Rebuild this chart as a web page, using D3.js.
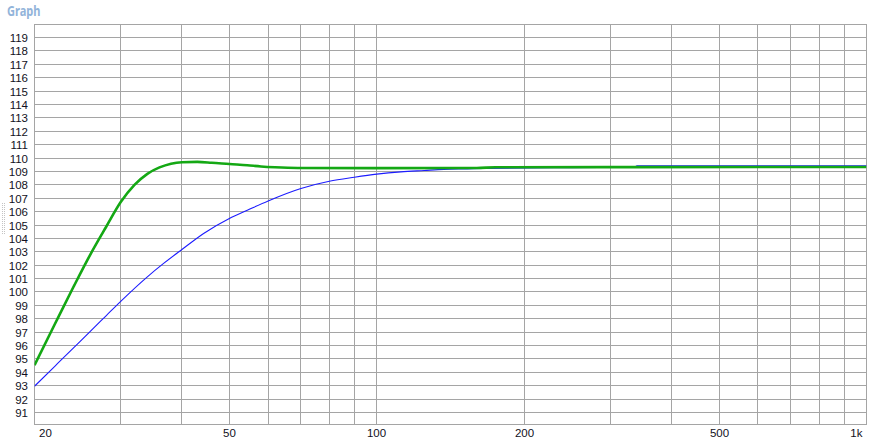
<!DOCTYPE html>
<html>
<head>
<meta charset="utf-8">
<script src="https://cdn.jsdelivr.net/npm/d3@7"></script>
<style>
  html, body { margin: 0; padding: 0; background: #ffffff; }
  svg { display: block; }
</style>
</head>
<body>
<script>
// ---- Data ----
const yTicks = d3.range(91, 120);                       // 91 .. 119
const xGridFreqs = [30, 40, 50, 60, 70, 80, 90, 100, 200, 300, 400, 500, 600, 700, 800, 900];
const xTickFreqs = [20, 50, 100, 200, 500, 1000];
const xTickLabels = ["20", "50", "100", "200", "500", "1k"];

const greenFreq = [20, 22, 24, 26, 28, 30, 32, 34, 36, 38, 40, 43, 46, 50, 54.4, 58, 62, 69, 100, 160, 175, 340, 1000];
const greenDb   = [94.53, 97.59, 100.35, 102.79, 104.85, 106.71, 107.99, 108.82, 109.3, 109.58, 109.69, 109.71, 109.65, 109.55, 109.46, 109.37, 109.31, 109.26, 109.25, 109.26, 109.31, 109.32, 109.33];

const blueFreq = [20, 22, 24, 26, 28, 30, 34, 36.7, 40, 44.3, 50, 54.4, 60, 70, 80, 90, 100, 112, 125, 137, 153, 165, 250, 335, 340, 500, 1000];
const blueDb   = [92.96, 94.45, 95.81, 97.06, 98.22, 99.3, 101.13, 102.13, 103.17, 104.37, 105.49, 106.1, 106.8, 107.73, 108.27, 108.57, 108.80, 108.97, 109.07, 109.15, 109.19, 109.22, 109.28, 109.30, 109.42, 109.42, 109.42];

// ---- Layout ----
const W = 872, H = 444;
const plot = { left: 34.5, right: 866.5, top: 24.5, bottom: 424.5 };
const FONT = "'Liberation Sans', Arial, sans-serif";

const svg = d3.select("body").append("svg").attr("width", W).attr("height", H);

const x = d3.scaleLog().domain([20, 1000]).range([plot.left, plot.right]);
const y = d3.scaleLinear().domain([91, 119]).range([412.5, 37.5]);
const px = v => Math.floor(v) + 0.5;

// Title
svg.append("text")
  .attr("x", 7).attr("y", 15.5)
  .attr("font-family", "'Noto Sans', sans-serif")
  .attr("font-weight", "bold")
  .attr("font-size", 13.5)
  .attr("textLength", 33.5).attr("lengthAdjust", "spacingAndGlyphs")
  .attr("fill", "#92b4da")
  .text("Graph");

// Splitter grip
const grip = svg.append("g").attr("stroke", "#c4c4c4").attr("stroke-dasharray", "1,1");
[2.5, 4.5].forEach(gx => grip.append("line").attr("x1", gx).attr("x2", gx).attr("y1", 203).attr("y2", 235));

// Plot background
svg.append("rect")
  .attr("x", plot.left).attr("y", plot.top)
  .attr("width", plot.right - plot.left).attr("height", plot.bottom - plot.top)
  .attr("fill", "#ffffff");

const grid = svg.append("g").attr("stroke", "#a5a5a5").attr("stroke-width", 1);
grid.selectAll("line.h").data(yTicks).join("line")
  .attr("class", "h")
  .attr("x1", plot.left).attr("x2", plot.right)
  .attr("y1", d => px(y(d))).attr("y2", d => px(y(d)));
grid.selectAll("line.v").data(xGridFreqs).join("line")
  .attr("class", "v")
  .attr("y1", plot.top).attr("y2", plot.bottom)
  .attr("x1", d => px(x(d))).attr("x2", d => px(x(d)));
grid.append("rect")
  .attr("x", plot.left).attr("y", plot.top)
  .attr("width", plot.right - plot.left).attr("height", plot.bottom - plot.top)
  .attr("fill", "none");

// Y tick labels
svg.append("g")
  .attr("font-family", FONT)
  .attr("font-size", 11.5)
  .attr("fill", "#111122")
  .attr("text-anchor", "end")
  .selectAll("text").data(yTicks).join("text")
  .attr("x", 28)
  .attr("y", d => px(y(d)) + 4)
  .text(d => d);

// X tick labels
const xl = svg.append("g")
  .attr("font-family", FONT)
  .attr("font-size", 11.5)
  .attr("fill", "#111122");
xTickFreqs.forEach((f, i) => {
  let anchor = "middle", xx = px(x(f));
  if (i === 0) { anchor = "start"; xx = plot.left + 4.5; }
  else if (i === xTickFreqs.length - 1) { anchor = "end"; xx = plot.right - 4; }
  xl.append("text")
    .attr("x", xx).attr("y", 436.5)
    .attr("text-anchor", anchor)
    .text(xTickLabels[i]);
});

// Curves
const line = d3.line()
  .x(d => x(d[0]))
  .y(d => y(d[1]))
  .curve(d3.curveMonotoneX);

svg.append("clipPath").attr("id", "clip").append("rect")
  .attr("x", plot.left).attr("y", plot.top)
  .attr("width", plot.right - plot.left).attr("height", plot.bottom - plot.top);

const curves = svg.append("g").attr("clip-path", "url(#clip)");

curves.append("path")
  .datum(d3.zip(blueFreq, blueDb))
  .attr("d", line)
  .attr("fill", "none")
  .attr("stroke", "#1c1cff")
  .attr("stroke-width", 1.1);

curves.append("path")
  .datum(d3.zip(greenFreq, greenDb))
  .attr("d", line)
  .attr("fill", "none")
  .attr("stroke", "#14a814")
  .attr("stroke-width", 2.6);
</script>
</body>
</html>
